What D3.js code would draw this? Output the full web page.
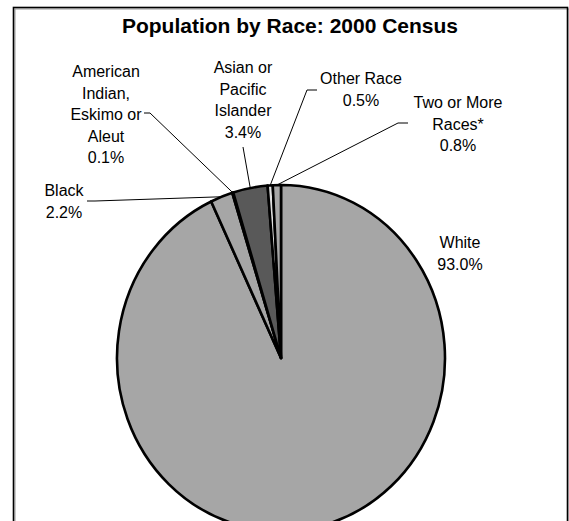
<!DOCTYPE html>
<html><head><meta charset="utf-8">
<script src="https://cdn.jsdelivr.net/npm/d3@7"></script>
<style>
html,body{margin:0;padding:0;background:#fff;}
svg{display:block;font-family:"Liberation Sans",Arial,sans-serif;}
</style></head>
<body>
<script>
const title = "Population by Race: 2000 Census";
const categories = ["White", "Black", "American Indian, Eskimo or Aleut", "Asian or Pacific Islander", "Other Race", "Two or More Races*"];
const values = [93.0, 2.2, 0.1, 3.4, 0.5, 0.8];
const valueLabels = ["93.0%", "2.2%", "0.1%", "3.4%", "0.5%", "0.8%"];
const labelLines = [["White"], ["Black"], ["American", "Indian,", "Eskimo or", "Aleut"], ["Asian or", "Pacific", "Islander"], ["Other Race"], ["Two or More", "Races*"]];
const fills = ["#A6A6A6", "#A6A6A6", "#A6A6A6", "#595959", "#E0E0E0", "#A6A6A6"];

// layout (positions of label blocks and leader elbows)
const W = 569, H = 521;
const cx = 281, cy = 358, rx = 164, ry = 173;
const labelPos = [
  {x: 460, y: 242, leader: null},
  {x: 64, y: 190, leader: [[87, 201], [95, 201]]},
  {x: 106, y: 71, leader: [[144, 113], [150, 113]]},
  {x: 243, y: 67, leader: [[243, 147]]},
  {x: 361, y: 78, leader: [[317, 90], [307, 90]]},
  {x: 458, y: 102, leader: [[408, 123], [398, 123]]}
];
const lineH = 21.6;

const svg = d3.select("body").append("svg").attr("width", W).attr("height", H);

svg.append("rect").attr("x", 15).attr("y", 9).attr("width", 554).attr("height", 600)
  .attr("fill", "none").attr("stroke", "#9a9a9a").attr("stroke-width", 1);
svg.append("rect").attr("x", 13.5).attr("y", 7.5).attr("width", 554).attr("height", 600)
  .attr("fill", "none").attr("stroke", "#000").attr("stroke-width", 1.6);

svg.append("text").attr("x", 290).attr("y", 33).attr("text-anchor", "middle")
  .attr("font-weight", "bold").attr("font-size", 21).attr("fill", "#000").text(title);

const data = values.map((v, i) => ({name: categories[i], value: v, i}));
const pie = d3.pie().sort(null).value(d => d.value);
const arcs = pie(data);
const arc = d3.arc().innerRadius(0).outerRadius(rx);

const g = svg.append("g").attr("transform", `translate(${cx},${cy}) scale(1,${ry / rx})`);
g.selectAll("path").data(arcs).join("path")
  .attr("d", arc)
  .attr("fill", d => fills[d.data.i])
  .attr("stroke", "#000").attr("stroke-width", 2.6)
  .attr("stroke-linejoin", "round")
  .attr("vector-effect", "non-scaling-stroke");

// leaders
arcs.forEach(a => {
  const lp = labelPos[a.data.i];
  if (!lp.leader) return;
  const mid = (a.startAngle + a.endAngle) / 2;
  const px = cx + rx * Math.sin(mid), py = cy - ry * Math.cos(mid);
  const pts = lp.leader.concat([[px, py]]);
  svg.append("path").attr("d", d3.line()(pts))
    .attr("fill", "none").attr("stroke", "#000").attr("stroke-width", 1);
});

// labels
arcs.forEach(a => {
  const i = a.data.i, lp = labelPos[i];
  const lines = labelLines[i].concat([valueLabels[i]]);
  const t = svg.append("text").attr("text-anchor", "middle").attr("font-size", 16).attr("fill", "#000");
  lines.forEach((s, k) => {
    t.append("tspan").attr("x", lp.x).attr("y", lp.y + k * lineH + 6).text(s);
  });
});
</script>
</body></html>
